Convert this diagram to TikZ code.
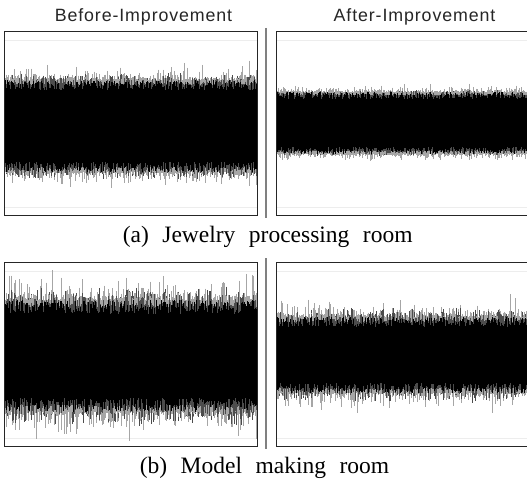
\documentclass[tikz,border=0pt]{standalone}
\usepackage{fontspec}
\setmainfont{Liberation Serif}
\newfontfamily\titlefont[LetterSpace=5]{Liberation Sans}
\newcommand\widespaces{\spaceskip=13.5bp\relax}
\tikzset{
  panelbox/.style={draw=black!85, line width=0.8bp},
  sepline/.style={draw=black!50, line width=2bp},
  gridfaint/.style={draw=black!7, line width=0.8bp},
  titletext/.style={font=\titlefont\fontsize{17.8bp}{20bp}\selectfont, anchor=base, inner sep=0pt, text=black!85},
  captext/.style={font=\fontsize{23.5bp}{27bp}\selectfont, anchor=base, inner sep=0pt},
  spikelight/.style={draw=black!35, line width=0.6bp},
  spikemid/.style={draw=black!70, line width=0.6bp},
  spikedark/.style={draw=black, line width=0.6bp},
}
% #1 x0, #2 x1, #3 ytop, #4 ybot, #5 centre, #6 mass half height, #7 dark jag, #8 light spike
\newcommand\wavepanel[8]{%
  \begin{scope}
    \clip (#1,#3) rectangle (#2,#4);
    \draw[gridfaint] (#1,#3+9.5) -- (#2,#3+9.5) (#1,#4-8) -- (#2,#4-8);
    \fill[black] (#1,#5-#6) rectangle (#2,#5+#6);
    \pgfmathtruncatemacro\nsteps{(#2-#1)/0.6}
    \foreach \k in {0,...,\nsteps}{
      \pgfmathsetmacro\xx{#1+0.6*\k}
      \pgfmathsetmacro\gU{#6+#7+#8*rnd*rnd*rnd}
      \pgfmathsetmacro\gD{#6+#7+#8*rnd*rnd*rnd}
      \pgfmathsetmacro\mU{#6+0.5*#7+0.6*#8*rnd*rnd}
      \pgfmathsetmacro\mD{#6+0.5*#7+0.6*#8*rnd*rnd}
      \pgfmathsetmacro\kU{#6+#7*rnd}
      \pgfmathsetmacro\kD{#6+#7*rnd}
      \draw[spikelight] (\xx,#5-\gU) -- (\xx,#5+\gD);
      \draw[spikemid] (\xx,#5-\mU) -- (\xx,#5+\mD);
      \draw[spikedark] (\xx,#5-\kU) -- (\xx,#5+\kD);
    }
  \end{scope}
}
\begin{document}
\begin{tikzpicture}[x=1bp,y=-1bp]
\pgfmathsetseed{12345}
\useasboundingbox[fill=white] (0,0) rectangle (527,483);
% titles
\node[titletext] (tb) at (143.5,21.5) {Before-Improvement};
\node[titletext] (ta) at (414.5,21.5) {After-Improvement};
% panels (a)
\wavepanel{4}{257}{31}{215}{126}{36}{10}{22}
\wavepanel{276}{530}{31}{215}{123}{24}{7}{10}
\draw[panelbox] (4,31) rectangle (257,215);
\draw[panelbox] (276,31) rectangle (530,215);
\coordinate (s1t) at (266,28);
\coordinate (s1b) at (266,218);
\draw[sepline] (s1t) -- (s1b);
\node[captext] (ca) at (267.7,242.7) {\widespaces (a) Jewelry processing room};
% panels (b)
\wavepanel{4}{257}{262}{446}{356}{42}{14}{36}
\wavepanel{276}{530}{262}{446}{355}{28}{10}{25}
\draw[panelbox] (4,262) rectangle (257,446);
\draw[panelbox] (276,262) rectangle (530,446);
\coordinate (s2t) at (266,258);
\coordinate (s2b) at (266,449);
\draw[sepline] (s2t) -- (s2b);
\node[captext] (cb) at (264.5,473) {\widespaces (b) Model making room};
\end{tikzpicture}
\end{document}
